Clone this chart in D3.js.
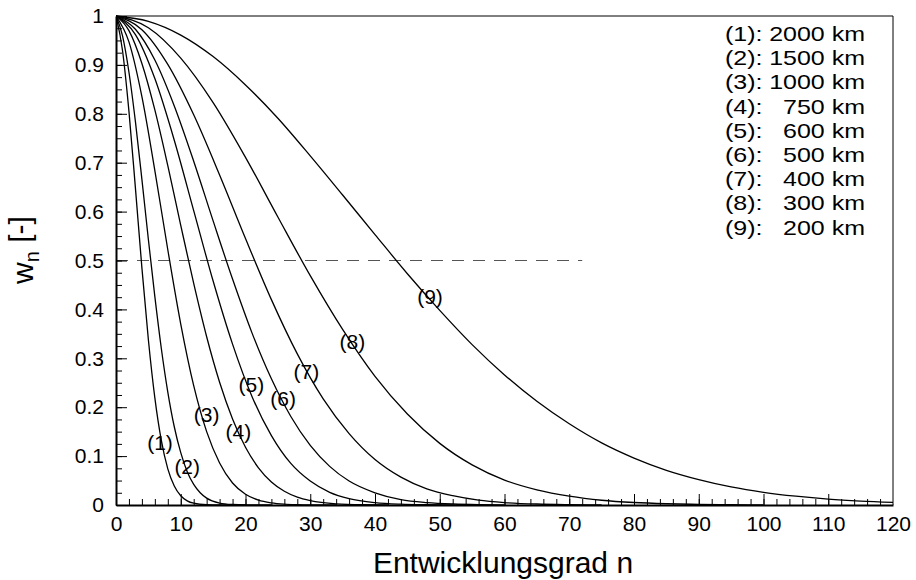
<!DOCTYPE html>
<html>
<head>
<meta charset="utf-8">
<script src="https://cdn.jsdelivr.net/npm/d3@7"></script>
<style>
  body { margin: 0; background: #fff; }
  svg { display: block; font-family: "Liberation Sans", Arial, sans-serif; }
</style>
</head>
<body>
<svg id="chart"></svg>
<script>
var width = 916;
var height = 580;

// filter weights w_n, [degree n, w_n]
var curve1 = [[0,1],[1,0.930],[2,0.805],[3,0.648],[4,0.485],[5,0.338],[6,0.219],[7,0.132],[8,0.074],[9,0.039],[10,0.019],[11,0.0085],[12,0.0036],[14,0.0005],[16,0.0001],[20,0]];
var curve2 = [[0,1],[1,0.960],[2,0.885],[3,0.784],[4,0.666],[5,0.543],[6,0.426],[7,0.320],[8,0.231],[9,0.160],[10,0.107],[11,0.068],[12,0.042],[13,0.025],[14,0.014],[16,0.004],[18,0.001],[20,0.0002],[24,0]];
var curve3 = [[0,1],[2,0.947],[4,0.835],[6,0.684],[8,0.522],[10,0.370],[12,0.244],[14,0.150],[16,0.086],[18,0.045],[20,0.022],[22,0.010],[24,0.0044],[26,0.0018],[28,0.0007],[30,0.0002],[34,0]];
var curve4 = [[0,1],[2,0.970],[4,0.903],[6,0.808],[8,0.694],[10,0.572],[12,0.453],[14,0.344],[16,0.251],[18,0.176],[20,0.118],[22,0.076],[24,0.047],[26,0.028],[28,0.016],[30,0.0089],[34,0.0024],[38,0.0005],[42,0.0001]];
var curve5 = [[0,1],[3,0.962],[6,0.872],[9,0.746],[12,0.602],[15,0.458],[18,0.329],[21,0.222],[24,0.142],[27,0.085],[30,0.049],[33,0.026],[36,0.013],[40,0.0048],[44,0.0016],[48,0.0005],[52,0.0001]];
var curve6 = [[0,1],[3,0.973],[6,0.910],[9,0.816],[12,0.703],[15,0.581],[18,0.462],[21,0.352],[24,0.258],[27,0.181],[30,0.122],[33,0.079],[36,0.049],[40,0.025],[44,0.011],[48,0.0049],[52,0.002],[56,0.0007],[60,0.0003]];
var curve7 = [[0,1],[4,0.972],[8,0.901],[12,0.798],[16,0.675],[20,0.545],[24,0.420],[28,0.309],[32,0.217],[36,0.146],[40,0.093],[44,0.057],[48,0.033],[52,0.019],[56,0.0099],[60,0.005],[65,0.002],[70,0.0008],[75,0.0003]];
var curve8 = [[0,1],[5,0.976],[10,0.914],[15,0.823],[20,0.711],[25,0.589],[30,0.469],[35,0.359],[40,0.263],[45,0.186],[50,0.126],[55,0.082],[60,0.051],[65,0.031],[70,0.018],[75,0.0097],[80,0.0051],[85,0.0026],[90,0.0013],[95,0.0006],[100,0.0003]];
var curve9 = [[0,1],[5,0.989],[10,0.961],[15,0.917],[20,0.859],[25,0.791],[30,0.714],[35,0.634],[40,0.553],[45,0.473],[50,0.398],[55,0.328],[60,0.266],[65,0.212],[70,0.166],[75,0.127],[80,0.096],[85,0.071],[90,0.052],[95,0.037],[100,0.026],[105,0.018],[110,0.012],[115,0.008],[120,0.0053]];

var curves = [curve1, curve2, curve3, curve4, curve5, curve6, curve7, curve8, curve9];
var curveNames = ['(1)', '(2)', '(3)', '(4)', '(5)', '(6)', '(7)', '(8)', '(9)'];
var radii = ['2000 km', '1500 km', '1000 km', '750 km', '600 km', '500 km', '400 km', '300 km', '200 km'];
// where the curve numbers sit, [n, w]
var labelPos = [[6.8,0.128],[11.0,0.078],[14.0,0.184],[18.9,0.150],[20.9,0.246],[25.8,0.218],[29.4,0.272],[36.5,0.335],[48.5,0.427]];

var halfLevel = 0.5;
var halfEnd = 72;

var xTicks = d3.range(0, 121, 10);
var yTicks = d3.range(0, 11).map(function(i) { return i / 10; });

var margin = { left: 116, right: 23, top: 16, bottom: 75 };

var svg = d3.select('#chart')
   .attr('width', width)
   .attr('height', height)
;

var x = d3.scaleLinear()
   .domain([0, 120])
   .range([margin.left, width - margin.right]);

var y = d3.scaleLinear()
   .domain([0, 1])
   .range([height - margin.bottom, margin.top]);

svg.append('clipPath')
   .attr('id', 'plot-clip')
   .append('rect')
   .attr('x', x(0))
   .attr('y', y(1) - 1)
   .attr('width', x(120) - x(0))
   .attr('height', y(0) - y(1) + 1);

// frame: top and right thin
svg.append('path')
   .attr('d', 'M' + x(0) + ',' + y(1) + 'H' + x(120) + 'V' + y(0))
   .attr('fill', 'none')
   .attr('stroke', '#000')
   .attr('stroke-width', 1);

// dashed 0.5 line
svg.append('line')
   .attr('x1', x(0))
   .attr('x2', x(halfEnd))
   .attr('y1', y(halfLevel))
   .attr('y2', y(halfLevel))
   .attr('stroke', '#555')
   .attr('stroke-width', 1.2)
   .attr('stroke-dasharray', '12,9');

var line = d3.line()
   .x(function(d) { return x(d[0]); })
   .y(function(d) { return y(d[1]); })
   .curve(d3.curveMonotoneX);

svg.append('g')
   .attr('clip-path', 'url(#plot-clip)')
   .selectAll('path')
   .data(curves)
   .enter()
   .append('path')
   .attr('d', line)
   .attr('fill', 'none')
   .attr('stroke', '#000')
   .attr('stroke-width', 1.3);

svg.append('g')
   .selectAll('text')
   .data(labelPos)
   .enter()
   .append('text')
   .attr('x', function(d) { return x(d[0]); })
   .attr('y', function(d) { return y(d[1]); })
   .attr('dy', '0.35em')
   .attr('text-anchor', 'middle')
   .style('font-size', '21px')
   .text(function(d, i) { return curveNames[i]; });

// axes, ticks pointing inward
var xMinor = svg.append('g')
   .attr('transform', 'translate(0,' + y(0) + ')')
   .call(d3.axisBottom(x).tickValues(d3.range(0, 120, 2)).tickSize(-6).tickSizeOuter(0).tickFormat(''));
xMinor.select('.domain').remove();

var xAxis = svg.append('g')
   .attr('transform', 'translate(0,' + y(0) + ')')
   .call(d3.axisBottom(x).tickValues(xTicks).tickSize(-11).tickSizeOuter(0).tickPadding(11));

var yMinor = svg.append('g')
   .attr('transform', 'translate(' + x(0) + ',0)')
   .call(d3.axisLeft(y).tickValues(d3.range(0, 41).map(function(i) { return i / 40; })).tickSize(-6).tickSizeOuter(0).tickFormat(''));
yMinor.select('.domain').remove();

var yAxis = svg.append('g')
   .attr('transform', 'translate(' + x(0) + ',0)')
   .call(d3.axisLeft(y).tickValues(yTicks).tickSize(-11).tickSizeOuter(0).tickPadding(12)
      .tickFormat(function(d) { return String(+d.toFixed(1)); }));

[xAxis, yAxis].forEach(function(a) {
   a.select('.domain').attr('stroke-width', 2);
   a.selectAll('text').style('font-size', '21px').attr('fill', '#000');
   a.attr('font-family', null).attr('font-size', null);
});
svg.selectAll('.tick line').attr('stroke', '#000');
xAxis.selectAll('.tick').filter(function(d) { return d === 0 || d === 120; }).select('line').remove();

// axis titles
svg.append('text')
   .attr('x', 503)
   .attr('y', 573)
   .attr('text-anchor', 'middle')
   .style('font-size', '30px')
   .text('Entwicklungsgrad n');

var yTitle = svg.append('text')
   .attr('transform', 'translate(33,250) rotate(-90)')
   .attr('text-anchor', 'middle')
   .style('font-size', '30px');
yTitle.append('tspan').text('w');
yTitle.append('tspan').attr('dy', '0.3em').style('font-size', '20px').text('n');
yTitle.append('tspan').attr('dy', '-0.3em').text(' [-]');

// legend, the source font is wide, so stretch it sideways
var legendScale = 1.19;
var legend = svg.append('g')
   .attr('transform', 'translate(725,0) scale(' + legendScale + ',1)')
   .style('font-size', '21px');
legend.selectAll('text.key')
   .data(curveNames)
   .enter()
   .append('text')
   .attr('class', 'key')
   .attr('x', 0)
   .attr('y', function(d, i) { return 41 + i * 24.2; })
   .text(function(d) { return d + ':'; });
legend.selectAll('text.val')
   .data(radii)
   .enter()
   .append('text')
   .attr('class', 'val')
   .attr('x', (865 - 725) / legendScale)
   .attr('y', function(d, i) { return 41 + i * 24.2; })
   .attr('text-anchor', 'end')
   .text(function(d) { return d; });
</script>
</body>
</html>
